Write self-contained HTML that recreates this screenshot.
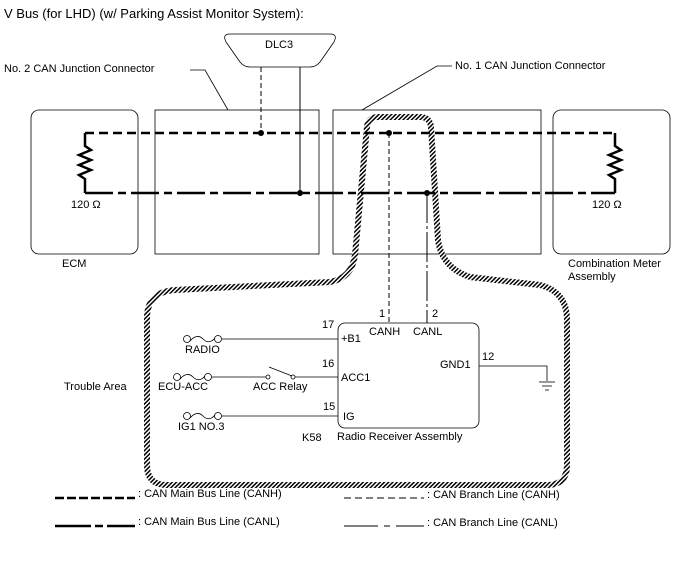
<!DOCTYPE html>
<html><head><style>
body{margin:0;background:#fff;}
svg text{font-family:"Liberation Sans",sans-serif;font-size:11px;fill:#000;}
</style></head><body>
<svg width="688" height="560" viewBox="0 0 688 560" xmlns="http://www.w3.org/2000/svg">
<defs>
<pattern id="h" width="3" height="3" patternUnits="userSpaceOnUse" patternTransform="rotate(45)">
<rect width="3" height="3" fill="#fff"/><rect width="1.5" height="3" fill="#000"/>
</pattern>
</defs>
<text x="4" y="18" style="font-size:13px">V Bus (for LHD) (w/ Parking Assist Monitor System):</text>

<rect x="31" y="110" width="107" height="144" rx="8" fill="none" stroke="#000" stroke-width="0.8"/>
<rect x="155" y="110" width="164" height="144" fill="none" stroke="#000" stroke-width="0.8"/>
<rect x="333" y="110" width="208" height="144" fill="none" stroke="#000" stroke-width="0.8"/>
<rect x="553" y="110" width="117" height="144" rx="8" fill="none" stroke="#000" stroke-width="0.8"/>
<text x="62" y="267">ECM</text>
<text x="568" y="267">Combination Meter</text>
<text x="568" y="280">Assembly</text>

<path d="M230,34 L330,34 Q338,34 334,42 L320,62 Q316,67 310,67 L250,67 Q244,67 240,62 L226,42 Q222,34 230,34 Z" fill="none" stroke="#000" stroke-width="0.8"/>
<text x="265" y="48">DLC3</text>
<text x="4" y="72">No. 2 CAN Junction Connector</text>
<polyline points="190,70 205,70 228,110" fill="none" stroke="#000" stroke-width="0.8"/>
<text x="455" y="69">No. 1 CAN Junction Connector</text>
<polyline points="452,66 437,66 362,110" fill="none" stroke="#000" stroke-width="0.8"/>

<path d="M355,255 L367,127 Q368,117 378,117 L420,117 Q430,117 431,127 L438,240 Q442,268 470,277 L540,285 Q567,292 567,320 L567,465 Q567,485 547,485 L167,485 Q147,485 147,465 L147,318 Q147,292 175,290 L330,282 Q352,278 355,255 Z" fill="none" stroke="url(#h)" stroke-width="6"/>

<line x1="85" y1="133" x2="615" y2="133" stroke="#000" stroke-width="2.5" stroke-dasharray="9,5"/>
<line x1="85" y1="193" x2="615" y2="193" stroke="#000" stroke-width="2.5" stroke-dasharray="28,5,8,5"/>
<polyline points="85,133 85,146 91,150 79,155 91,160 79,165 91,170 79,175 85,179 85,193" fill="none" stroke="#000" stroke-width="2.5"/>
<polyline points="615,133 615,146 621,150 609,155 621,160 609,165 621,170 609,175 615,179 615,193" fill="none" stroke="#000" stroke-width="2.5"/>
<text x="71" y="208">120 Ω</text>
<text x="592" y="208">120 Ω</text>

<line x1="261" y1="67" x2="261" y2="133" stroke="#000" stroke-width="1" stroke-dasharray="5,3"/>
<line x1="300" y1="67" x2="300" y2="193" stroke="#000" stroke-width="1"/>
<circle cx="261" cy="133" r="3"/><circle cx="300" cy="193" r="3"/>
<line x1="389" y1="133" x2="389" y2="323" stroke="#000" stroke-width="1" stroke-dasharray="5,3"/>
<line x1="427" y1="193" x2="427" y2="323" stroke="#000" stroke-width="1" stroke-dasharray="30,3,3,3"/>
<circle cx="389" cy="133" r="3"/><circle cx="427" cy="193" r="3"/>

<rect x="338" y="323" width="141" height="105" rx="7" fill="none" stroke="#000" stroke-width="0.8"/>
<text x="379" y="317">1</text><text x="432" y="317">2</text>
<text x="369" y="335">CANH</text><text x="413" y="335">CANL</text>
<text x="322" y="328">17</text><text x="341" y="342">+B1</text>
<text x="322" y="367">16</text><text x="341" y="381">ACC1</text>
<text x="323" y="410">15</text><text x="343" y="420">IG</text>
<text x="440" y="368">GND1</text><text x="482" y="360">12</text>
<text x="302" y="441">K58</text><text x="337" y="440">Radio Receiver Assembly</text>
<text x="64" y="390">Trouble Area</text>

<g fill="none" stroke="#000" stroke-width="0.8">
<circle cx="187" cy="339" r="3.5"/><circle cx="218" cy="339" r="3.5"/><path d="M190,341 Q197,333 203,339 Q209,345 215,338"/>
<line x1="222" y1="339" x2="338" y2="339"/>
<circle cx="177" cy="377" r="3.5"/><circle cx="208" cy="377" r="3.5"/><path d="M180,379 Q187,371 193,377 Q199,383 205,376"/>
<line x1="212" y1="377" x2="266" y2="377"/>
<circle cx="268" cy="377" r="2"/><circle cx="293" cy="377" r="2"/><line x1="269" y1="367" x2="292" y2="376"/>
<line x1="295" y1="377" x2="338" y2="377"/>
<circle cx="187" cy="416" r="3.5"/><circle cx="218" cy="416" r="3.5"/><path d="M190,418 Q197,410 203,416 Q209,422 215,415"/>
<line x1="222" y1="416" x2="338" y2="416"/>
<polyline points="479,366 547,366 547,381"/>
<line x1="539" y1="382" x2="555" y2="382"/><line x1="542" y1="386" x2="552" y2="386"/><line x1="545" y1="390" x2="549" y2="390"/>
</g>
<text x="185" y="353">RADIO</text>
<text x="158" y="390">ECU-ACC</text>
<text x="253" y="390">ACC Relay</text>
<text x="178" y="430">IG1 NO.3</text>

<line x1="55" y1="498" x2="135" y2="498" stroke="#000" stroke-width="2.5" stroke-dasharray="9,3"/>
<text x="138" y="497">: CAN Main Bus Line (CANH)</text>
<line x1="344" y1="498" x2="424" y2="498" stroke="#000" stroke-width="1" stroke-dasharray="7,4"/>
<text x="427" y="498">: CAN Branch Line (CANH)</text>
<line x1="55" y1="526" x2="135" y2="526" stroke="#000" stroke-width="2.5" stroke-dasharray="36,4,8,4"/>
<text x="138" y="525">: CAN Main Bus Line (CANL)</text>
<line x1="344" y1="526" x2="424" y2="526" stroke="#000" stroke-width="1" stroke-dasharray="34,6,6,6"/>
<text x="427" y="526">: CAN Branch Line (CANL)</text>
</svg>
</body></html>
